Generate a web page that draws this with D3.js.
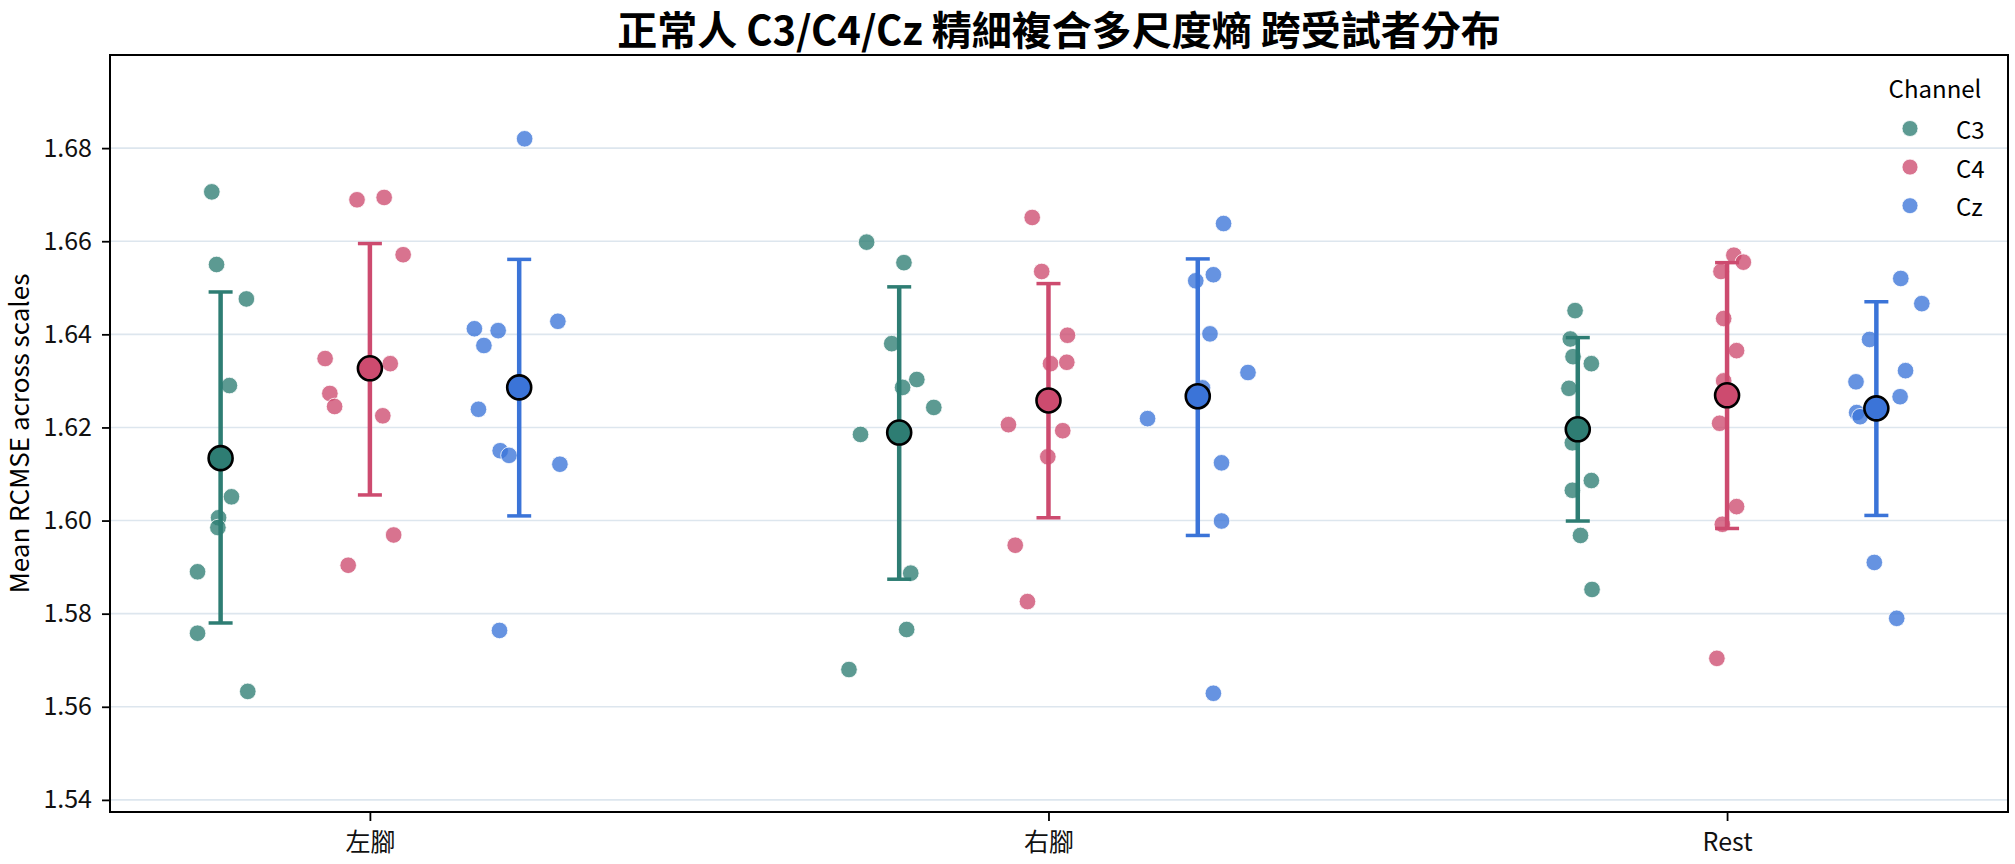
<!DOCTYPE html>
<html>
<head>
<meta charset="utf-8">
<script src="https://cdn.jsdelivr.net/npm/d3@7"></script>
<style>
  body { margin: 0; background: #fff; }
  text { font-family: "Noto Sans CJK TC", "Noto Sans", sans-serif; }
</style>
</head>
<body>
<div id="chart"></div>
<script>
// categories and channels
var conditions = ["左腳", "右腳", "Rest"];
var channels = ["C3", "C4", "Cz"];
var yTicks = [1.54, 1.56, 1.58, 1.60, 1.62, 1.64, 1.66, 1.68];

// per-subject values (condition -> channel)
var subj_L_C3 = [1.6706,1.655,1.6476,1.629,1.6051,1.6006,1.5985,1.589,1.5758,1.5633];
var subj_L_C4 = [1.6689,1.6694,1.6571,1.6348,1.6337,1.6273,1.6245,1.6225,1.5969,1.5904];
var subj_L_Cz = [1.682,1.6412,1.6408,1.6376,1.6428,1.6239,1.615,1.614,1.6121,1.5764];
var subj_R_C3 = [1.6598,1.6554,1.638,1.6303,1.6286,1.6243,1.6185,1.5887,1.5766,1.568];
var subj_R_C4 = [1.6651,1.6535,1.6398,1.6337,1.634,1.6206,1.6193,1.6137,1.5947,1.5826];
var subj_R_Cz = [1.6638,1.6528,1.6515,1.6401,1.6318,1.6285,1.6219,1.6124,1.5999,1.5629];
var subj_S_C3 = [1.6451,1.639,1.6352,1.6337,1.6284,1.6167,1.6086,1.6065,1.5968,1.5852];
var subj_S_C4 = [1.657,1.6555,1.6535,1.6434,1.6365,1.63,1.6209,1.603,1.5992,1.5704];
var subj_S_Cz = [1.652,1.6466,1.6389,1.6322,1.6298,1.6266,1.6232,1.6223,1.591,1.579];

// strip jitter (category units)
var jit_L_C3 = [-0.013,-0.006,0.038,0.013,0.016,-0.003,-0.004,-0.034,-0.034,0.040];
var jit_L_C4 = [-0.019,0.021,0.049,-0.066,0.030,-0.059,-0.052,0.019,0.035,-0.032];
var jit_L_Cz = [0.008,-0.066,-0.031,-0.052,0.057,-0.060,-0.028,-0.015,0.060,-0.029];
var jit_R_C3 = [-0.048,0.007,-0.011,0.026,0.005,0.051,-0.057,0.017,0.011,-0.074];
var jit_R_C4 = [-0.024,-0.010,0.028,0.003,0.027,-0.059,0.021,-0.001,-0.049,-0.031];
var jit_R_Cz = [0.038,0.023,-0.003,0.018,0.074,0.007,-0.074,0.035,0.035,0.023];
var jit_S_C3 = [-0.004,-0.011,-0.007,0.020,-0.013,-0.008,0.020,-0.008,0.004,0.021];
var jit_S_C4 = [0.010,0.024,-0.009,-0.005,0.014,-0.005,-0.011,0.014,-0.007,-0.015];
var jit_S_Cz = [0.036,0.067,-0.010,0.043,-0.030,0.035,-0.029,-0.024,-0.003,0.030];

// means and 95% CI, per condition, in channel order
var mean_L = [1.6134, 1.6327, 1.6286];
var low_L  = [1.578, 1.6055, 1.601];
var high_L = [1.6491, 1.6595, 1.6561];
var mean_R = [1.6189, 1.6258, 1.6267];
var low_R  = [1.5874, 1.6006, 1.5968];
var high_R = [1.6502, 1.6509, 1.6562];
var mean_S = [1.6196, 1.6269, 1.6241];
var low_S  = [1.5999, 1.5983, 1.6011];
var high_S = [1.6393, 1.6554, 1.647];

var subj = [[subj_L_C3, subj_L_C4, subj_L_Cz],[subj_R_C3, subj_R_C4, subj_R_Cz],[subj_S_C3, subj_S_C4, subj_S_Cz]];
var jit = [[jit_L_C3, jit_L_C4, jit_L_Cz],[jit_R_C3, jit_R_C4, jit_R_Cz],[jit_S_C3, jit_S_C4, jit_S_Cz]];
var means = [mean_L, mean_R, mean_S];
var lows = [low_L, low_R, low_S];
var highs = [high_L, high_R, high_S];

var colors = {"C3": "#2e7d73", "C4": "#cd4b6f", "Cz": "#3b74d8"};
var dodge = 0.22;

var W = 2015, H = 864;
var L = 110, R = 2008, T = 55, B = 812;

var svg = d3.select("#chart").append("svg")
  .attr("width", W)
  .attr("height", H);

var x = d3.scaleLinear().domain([-0.383, 2.414]).range([L, R]);
var y = d3.scaleLinear().domain([1.5374, 1.70]).range([B, T]);

// grid
svg.append("g").selectAll("line").data(yTicks).enter().append("line")
  .attr("x1", L).attr("x2", R)
  .attr("y1", function(d){ return y(d); })
  .attr("y2", function(d){ return y(d); })
  .attr("stroke", "#dde6ee")
  .attr("stroke-width", 1.6);

// flatten points
var points = [];
var stats = [];
conditions.forEach(function(c, ci){
  channels.forEach(function(ch, hi){
    subj[ci][hi].forEach(function(v, k){
      points.push({ch: ch, xv: ci + (hi - 1) * dodge + jit[ci][hi][k], v: v});
    });
    stats.push({ch: ch, xv: ci + (hi - 1) * dodge, m: means[ci][hi], lo: lows[ci][hi], hi: highs[ci][hi]});
  });
});

svg.append("g").selectAll("circle").data(points).enter().append("circle")
  .attr("cx", function(d){ return x(d.xv); })
  .attr("cy", function(d){ return y(d.v); })
  .attr("r", 8.3)
  .attr("fill", function(d){ return colors[d.ch]; })
  .attr("fill-opacity", 0.78)
  .attr("stroke", "#fff")
  .attr("stroke-width", 0.8);

// error bars
var eb = svg.append("g");
eb.selectAll(".vl").data(stats).enter().append("line")
  .attr("x1", function(d){ return x(d.xv); })
  .attr("x2", function(d){ return x(d.xv); })
  .attr("y1", function(d){ return y(d.lo); })
  .attr("y2", function(d){ return y(d.hi); })
  .attr("stroke", function(d){ return colors[d.ch]; })
  .attr("stroke-width", 4.5);
["lo", "hi"].forEach(function(k){
  eb.selectAll(".cap-" + k).data(stats).enter().append("line")
    .attr("x1", function(d){ return x(d.xv) - 12; })
    .attr("x2", function(d){ return x(d.xv) + 12; })
    .attr("y1", function(d){ return y(d[k]); })
    .attr("y2", function(d){ return y(d[k]); })
    .attr("stroke", function(d){ return colors[d.ch]; })
    .attr("stroke-width", 3.5);
});
eb.selectAll("circle").data(stats).enter().append("circle")
  .attr("cx", function(d){ return x(d.xv); })
  .attr("cy", function(d){ return y(d.m); })
  .attr("r", 12)
  .attr("fill", function(d){ return colors[d.ch]; })
  .attr("stroke", "#000")
  .attr("stroke-width", 2.6);

// axes
var yAxis = svg.append("g").attr("transform", "translate(" + L + ",0)")
  .call(d3.axisLeft(y).tickValues(yTicks).tickFormat(d3.format(".2f")).tickSize(8).tickPadding(10));
var xAxis = svg.append("g").attr("transform", "translate(0," + B + ")")
  .call(d3.axisBottom(x).tickValues([0, 1, 2]).tickFormat(function(d){ return conditions[d]; }).tickSize(9).tickPadding(12));
[yAxis, xAxis].forEach(function(a){
  a.select(".domain").remove();
  a.selectAll("line").attr("stroke", "#000").attr("stroke-width", 1.8);
  a.selectAll("text").attr("font-size", 25).attr("fill", "#111")
    .style("font-family", "'Noto Sans CJK TC', sans-serif");
});

svg.append("rect")
  .attr("x", L).attr("y", T)
  .attr("width", R - L).attr("height", B - T)
  .attr("fill", "none")
  .attr("stroke", "#000")
  .attr("stroke-width", 2);

// title
svg.append("text")
  .attr("x", (L + R) / 2).attr("y", 28)
  .attr("text-anchor", "middle")
  .attr("dominant-baseline", "central")
  .attr("font-size", 40)
  .attr("font-weight", "bold")
  .text("正常人 C3/C4/Cz 精細複合多尺度熵 跨受試者分布");

// y label
svg.append("text")
  .attr("transform", "translate(29," + (T + B) / 2 + ") rotate(-90)")
  .attr("text-anchor", "middle")
  .attr("font-size", 26)
  .text("Mean RCMSE across scales");

// legend
var lg = svg.append("g");
lg.append("text")
  .attr("x", 1935).attr("y", 87)
  .attr("text-anchor", "middle")
  .attr("dominant-baseline", "central")
  .attr("font-size", 24)
  .text("Channel");
channels.forEach(function(ch, i){
  var ly = 128.5 + i * 38.6;
  lg.append("circle")
    .attr("cx", 1910).attr("cy", ly).attr("r", 8)
    .attr("fill", colors[ch]).attr("fill-opacity", 0.78)
    .attr("stroke", "#fff").attr("stroke-width", 0.8);
  lg.append("text")
    .attr("x", 1956).attr("y", ly)
    .attr("dominant-baseline", "central")
    .attr("font-size", 24)
    .text(ch);
});
</script>
</body>
</html>
